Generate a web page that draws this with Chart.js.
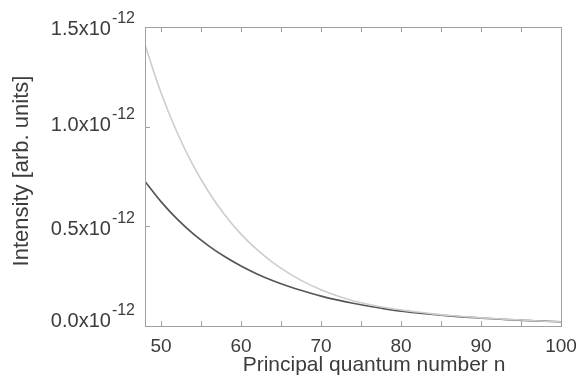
<!DOCTYPE html>
<html>
<head>
<meta charset="utf-8">
<script src="https://cdn.jsdelivr.net/npm/chart.js@4"></script>
<style>
  html, body { margin: 0; padding: 0; background: #fff; }
  #wrap { width: 583px; height: 380px; }
</style>
</head>
<body>
<div id="wrap"><canvas id="intensityChart" width="583" height="380"></canvas></div>
<script>
// principal quantum number n
const nValues = [48, 50, 52, 54, 56, 58, 60, 62, 64, 66, 68, 70, 72, 74, 76, 78, 80, 82, 84, 86, 88, 90, 92, 94, 96, 98, 100];
// intensity, in units of 1e-12 (arb. units)
const intensityLight = [1.41, 1.17, 0.972, 0.807, 0.670, 0.556, 0.461, 0.383, 0.318, 0.264, 0.219, 0.182, 0.152, 0.127, 0.108, 0.093, 0.081, 0.070, 0.061, 0.053, 0.047, 0.041, 0.036, 0.032, 0.028, 0.024, 0.021];
const intensityDark = [0.725, 0.624, 0.537, 0.463, 0.401, 0.347, 0.301, 0.261, 0.227, 0.198, 0.173, 0.150, 0.131, 0.114, 0.099, 0.086, 0.075, 0.066, 0.058, 0.051, 0.045, 0.040, 0.035, 0.031, 0.027, 0.024, 0.021];

const xTicks = [50, 55, 60, 65, 70, 75, 80, 85, 90, 95, 100];
const xTickLabels = ['50', '', '60', '', '70', '', '80', '', '90', '', '100'];
const yTicks = [0, 0.5, 1.0, 1.5];
const yTickLabels = ['0.0', '0.5', '1.0', '1.5'];
const yExponent = '-12';

const xTitle = 'Principal quantum number n';
const yTitle = 'Intensity [arb. units]';

const FONT = '"Liberation Sans", Arial, sans-serif';
const TEXT_COLOR = '#3c3c3c';
const FRAME_COLOR = '#a0a0a0';
// baseline shift of each y label below its tick
const Y_LABEL_SHIFT = [1, 8.5, 4, 8];

// box, inward ticks, tick labels with superscript exponent, axis titles
const framePlugin = {
    id: 'frame',
    afterDatasetsDraw(chart) {
        const { ctx, chartArea: a, scales: { x, y } } = chart;
        ctx.save();
        ctx.strokeStyle = FRAME_COLOR;
        ctx.lineWidth = 1;
        ctx.strokeRect(Math.round(a.left) + 0.5, Math.round(a.top) + 0.5,
            Math.round(a.right - a.left), Math.round(a.bottom - a.top));

        ctx.beginPath();
        xTicks.forEach(v => {
            const px = Math.round(x.getPixelForValue(v)) + 0.5;
            ctx.moveTo(px, a.bottom);
            ctx.lineTo(px, a.bottom - 5);
            ctx.moveTo(px, a.top);
            ctx.lineTo(px, a.top + 5);
        });
        yTicks.forEach(v => {
            const py = Math.round(y.getPixelForValue(v)) + 0.5;
            ctx.moveTo(a.left, py);
            ctx.lineTo(a.left + 5, py);
        });
        ctx.stroke();

        ctx.fillStyle = TEXT_COLOR;
        ctx.textBaseline = 'alphabetic';

        // x tick labels
        ctx.font = '19px ' + FONT;
        ctx.textAlign = 'center';
        xTicks.forEach((v, i) => {
            if (!xTickLabels[i]) return;
            ctx.fillText(xTickLabels[i], x.getPixelForValue(v), a.bottom + 26);
        });

        // y tick labels: mantissa + "x10" with raised exponent
        const rightEdge = a.left - 10;
        yTicks.forEach((v, i) => {
            const base = y.getPixelForValue(v) + Y_LABEL_SHIFT[i];
            ctx.font = '16px ' + FONT;
            const sw = ctx.measureText(yExponent).width;
            ctx.textAlign = 'left';
            ctx.fillText(yExponent, rightEdge - sw, base - 12);
            ctx.font = '20px ' + FONT;
            ctx.textAlign = 'right';
            ctx.fillText(yTickLabels[i] + 'x10', rightEdge - sw - 1, base);
        });

        // axis titles
        ctx.font = '21px ' + FONT;
        ctx.textAlign = 'center';
        ctx.fillText(xTitle, 374, a.bottom + 45);

        ctx.font = '22px ' + FONT;
        ctx.translate(28, 171);
        ctx.rotate(-Math.PI / 2);
        ctx.fillText(yTitle, 0, 0);
        ctx.restore();
    }
};

const toPoints = vals => nValues.map((n, i) => ({ x: n, y: vals[i] }));

new Chart(document.getElementById('intensityChart'), {
    type: 'line',
    data: {
        datasets: [
            {
                label: 'light',
                data: toPoints(intensityLight),
                borderColor: '#cdcdcd',
                borderWidth: 1.6,
                pointRadius: 0,
                cubicInterpolationMode: 'monotone'
            },
            {
                label: 'dark',
                data: toPoints(intensityDark),
                borderColor: '#555555',
                borderWidth: 1.7,
                pointRadius: 0,
                cubicInterpolationMode: 'monotone'
            }
        ]
    },
    options: {
        responsive: false,
        animation: false,
        layout: { padding: { left: 145, top: 27, right: 22, bottom: 54 } },
        plugins: {
            legend: { display: false },
            tooltip: { enabled: false }
        },
        scales: {
            x: { type: 'linear', display: false, min: 48, max: 100 },
            y: { type: 'linear', display: false, min: 0, max: 1.5 }
        }
    },
    plugins: [framePlugin]
});
</script>
</body>
</html>
